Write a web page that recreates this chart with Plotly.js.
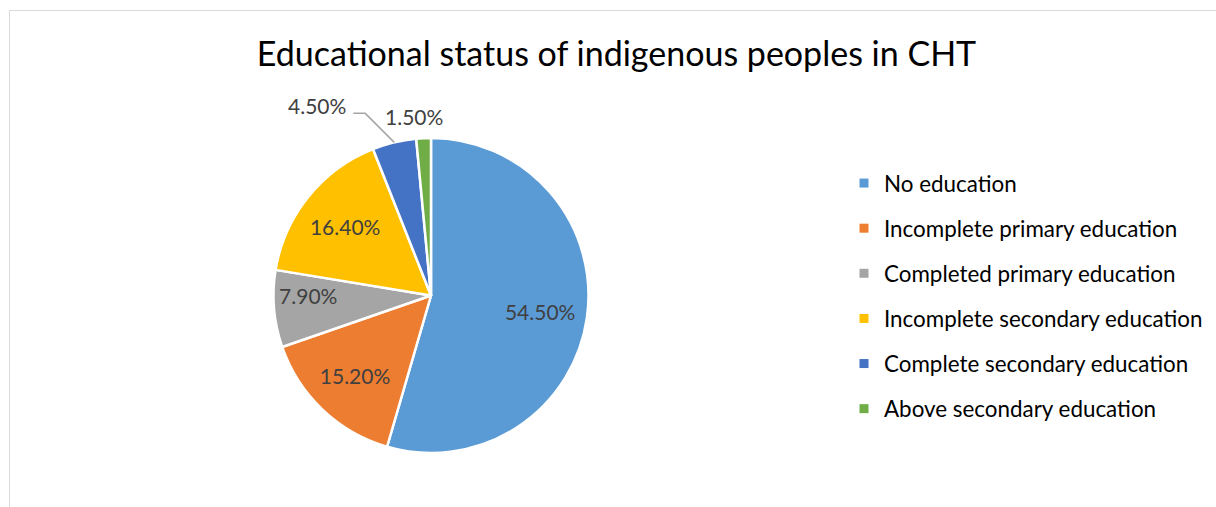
<!DOCTYPE html>
<html>
<head>
<meta charset="utf-8">
<script src="https://cdn.plot.ly/plotly-3.0.1.min.js"></script>
<style>html,body{margin:0;padding:0;background:#fff;}#chart{width:1216px;height:507px;}</style>
</head>
<body>
<div id="chart"></div>
<script>
const categories = ["No education", "Incomplete primary education", "Completed primary education", "Incomplete secondary education", "Complete secondary education", "Above secondary education"];
const shares = [54.5, 15.2, 7.9, 16.4, 4.5, 1.5];
const colors = ["#5B9BD5", "#ED7D31", "#A5A5A5", "#FFC000", "#4472C4", "#70AD47"];
const labelPositions = ["inside", "inside", "inside", "inside", "outside", "outside"];
const chartTitle = "Educational status of indigenous peoples in CHT";

const W = 1216, H = 507;
const cx = 431, cy = 295.5, R = 157.5;
const labelFont = {family: "Lato, sans-serif", size: 21, color: "#404040"};
const domain = {x: [(cx - R) / W, (cx + R) / W], y: [1 - (cy + R) / H, 1 - (cy - R) / H]};

// the pie itself
const pie = {
  type: "pie",
  labels: categories,
  values: shares,
  sort: false,
  direction: "clockwise",
  rotation: 0,
  marker: {colors: colors, line: {color: "#ffffff", width: 2.5}},
  textinfo: "none",
  showlegend: false,
  hoverinfo: "label+percent",
  domain: domain
};

// transparent ring on top that carries the inside data labels (placed mid-ring like Excel)
const labelRing = {
  type: "pie",
  labels: categories,
  values: shares,
  sort: false,
  direction: "clockwise",
  rotation: 0,
  hole: 0.4,
  marker: {colors: categories.map(() => "rgba(0,0,0,0)"), line: {width: 0}},
  texttemplate: "%{percent:.2%}",
  textposition: labelPositions.map(p => p === "inside" ? "inside" : "none"),
  insidetextorientation: "horizontal",
  textfont: labelFont,
  showlegend: false,
  hoverinfo: "skip",
  domain: domain
};

// outside labels for the thin slices, anchored at each slice's bisector on the rim
const total = shares.reduce((a, b) => a + b, 0);
const outsideOffsets = {4: {dx: -77, dy: -36.5, leader: true}, 5: {dx: -10, dy: -22, leader: false}};
const annotations = [];
const shapes = [{
  type: "rect", xref: "paper", yref: "paper",
  x0: 9.5 / W, x1: 1.02, y0: -0.02, y1: 1 - 10.5 / H,
  line: {color: "#d9d9d9", width: 1}
}];
let cum = 0;
shares.forEach((v, i) => {
  const mid = (cum + v / 2) / total * 2 * Math.PI;
  cum += v;
  if (labelPositions[i] !== "outside") return;
  const ex = cx + R * Math.sin(mid), ey = cy - R * Math.cos(mid);
  const o = outsideOffsets[i];
  annotations.push({
    xref: "paper", yref: "paper",
    x: (ex + o.dx) / W, y: 1 - (ey + o.dy) / H,
    xanchor: "center", yanchor: "middle",
    text: (v / total * 100).toFixed(2) + "%",
    showarrow: false, font: labelFont
  });
  if (o.leader) {
    const kx = ex - 29, ky = ey - 29;
    shapes.push({
      type: "path", xref: "paper", yref: "paper",
      path: `M ${ex / W} ${1 - ey / H} L ${kx / W} ${1 - ky / H} L ${(kx - 12) / W} ${1 - ky / H}`,
      line: {color: "#a6a6a6", width: 1.5}
    });
  }
});

const legendTraces = categories.map((c, i) => ({
  type: "scatter",
  mode: "markers",
  x: [null], y: [null],
  name: c,
  legendgroup: "g" + i,
  marker: {symbol: "square", size: 9, color: colors[i]},
  hoverinfo: "skip"
}));

const layout = {
  width: W, height: H,
  margin: {l: 0, r: 0, t: 0, b: 0},
  paper_bgcolor: "#ffffff",
  plot_bgcolor: "#ffffff",
  title: {
    text: chartTitle,
    font: {family: "Lato, sans-serif", size: 34, color: "#000000"},
    x: 616.5 / W, xanchor: "center",
    y: 1 - 54 / H, yanchor: "middle", yref: "container"
  },
  xaxis: {visible: false},
  yaxis: {visible: false},
  showlegend: true,
  legend: {
    x: 844 / W, xanchor: "left",
    y: 1 - 162 / H, yanchor: "top",
    traceorder: "grouped",
    tracegroupgap: 13,
    font: {family: "Lato, sans-serif", size: 22.4, color: "#000000"},
    bgcolor: "rgba(0,0,0,0)"
  },
  annotations: annotations,
  shapes: shapes
};

Plotly.newPlot("chart", [pie, labelRing].concat(legendTraces), layout, {displayModeBar: false, staticPlot: true});
</script>
</body>
</html>
